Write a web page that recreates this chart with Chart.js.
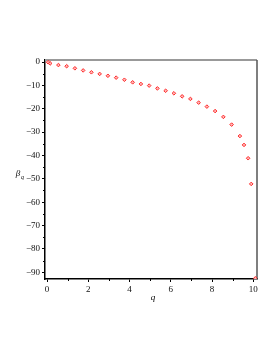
<!DOCTYPE html>
<html>
<head>
<meta charset="utf-8">
<script src="https://cdn.jsdelivr.net/npm/chart.js@4/dist/chart.umd.min.js"></script>
<style>
  html, body { margin: 0; padding: 0; background: #fff; }
  #wrap { width: 277px; height: 358px; }
</style>
</head>
<body>
<div id="wrap"><canvas id="plot" width="277" height="358"></canvas></div>
<script>
// beta_q against q
const qVals = [0.05, 0.15, 0.55, 0.95, 1.35, 1.75, 2.15, 2.55, 2.95, 3.35, 3.75, 4.15, 4.55, 4.95,
  5.35, 5.75, 6.15, 6.55, 6.95, 7.35, 7.75, 8.15, 8.55, 8.95, 9.35, 9.55, 9.75, 9.9, 10.1];
const betaVals = [-0.1, -0.6, -1.3, -1.8, -2.7, -3.6, -4.4, -5.1, -5.9, -6.7, -7.6, -8.7, -9.4, -10.1,
  -11.3, -12.3, -13.4, -14.7, -15.8, -17.4, -19.1, -21.0, -23.5, -26.8, -31.7, -35.5, -41.2, -52.2, -92.6];
const xTicks = [0, 2, 4, 6, 8, 10];
const yTicks = [0, -10, -20, -30, -40, -50, -60, -70, -80, -90];

const serif = "'Liberation Serif', 'DejaVu Serif', serif";

// box + minor ticks + axis titles
const frame = {
  id: 'frame',
  beforeDatasetsDraw(chart) {
    const { ctx, chartArea: a, scales } = chart;
    ctx.save();
    ctx.strokeStyle = '#999';
    ctx.lineWidth = 2;
    ctx.beginPath();
    ctx.moveTo(a.left, a.top); ctx.lineTo(a.right, a.top);
    ctx.stroke();
    ctx.lineWidth = 1.5;
    ctx.strokeStyle = '#555';
    ctx.beginPath();
    ctx.moveTo(a.right, a.top); ctx.lineTo(a.right, a.bottom);
    ctx.stroke();

    ctx.strokeStyle = '#000';
    ctx.lineWidth = 1;
    ctx.beginPath();
    for (let v = 1; v <= 9; v += 2) {
      const x = Math.round(scales.x.getPixelForValue(v)) + 0.5;
      ctx.moveTo(x, a.bottom); ctx.lineTo(x, a.bottom + 2);
    }
    for (let v = -5; v >= -85; v -= 10) {
      const y = Math.round(scales.y.getPixelForValue(v)) + 0.5;
      ctx.moveTo(a.left, y); ctx.lineTo(a.left - 2, y);
    }
    ctx.stroke();

    ctx.fillStyle = '#000';
    ctx.font = "italic 9px " + serif;
    ctx.textAlign = 'center';
    ctx.fillText('q', (a.left + a.right) / 2 + 2, 300);
    ctx.fillText('β', 18, 176);
    ctx.font = "italic 6px " + serif;
    ctx.fillText('q', 22.5, 179);
    ctx.restore();
  }
};

new Chart(document.getElementById('plot'), {
  type: 'scatter',
  data: {
    datasets: [{
      data: qVals.map((q, i) => ({ x: q, y: betaVals[i] })),
      pointStyle: 'rectRot',
      pointRadius: 1.8,
      borderWidth: 1,
      borderColor: '#ff2a2a',
      backgroundColor: '#ffb8b8'
    }]
  },
  options: {
    responsive: false,
    animation: false,
    layout: { padding: { left: 0, right: 20, top: 60, bottom: 49 } },
    plugins: { legend: { display: false }, tooltip: { enabled: false } },
    scales: {
      x: {
        type: 'linear',
        min: -0.1,
        max: 10.18,
        afterBuildTicks: s => { s.ticks = xTicks.map(v => ({ value: v })); },
        afterFit: s => { s.height = 30; },
        grid: { drawOnChartArea: false, tickLength: 3, color: '#000' },
        border: { color: '#000', width: 1.5 },
        ticks: { color: '#111', padding: 2, maxRotation: 0, font: { family: serif, size: 9 } }
      },
      y: {
        type: 'linear',
        min: -92.9,
        max: 0.86,
        afterBuildTicks: s => { s.ticks = yTicks.map(v => ({ value: v })); },
        afterFit: s => { s.width = 45; },
        grid: { drawOnChartArea: false, tickLength: 3, color: '#000' },
        border: { color: '#000', width: 1.5 },
        ticks: {
          color: '#111', padding: 2, font: { family: serif, size: 9 },
          callback: v => v < 0 ? '\u2212' + Math.abs(v) : String(v)
        }
      }
    }
  },
  plugins: [frame]
});
</script>
</body>
</html>
